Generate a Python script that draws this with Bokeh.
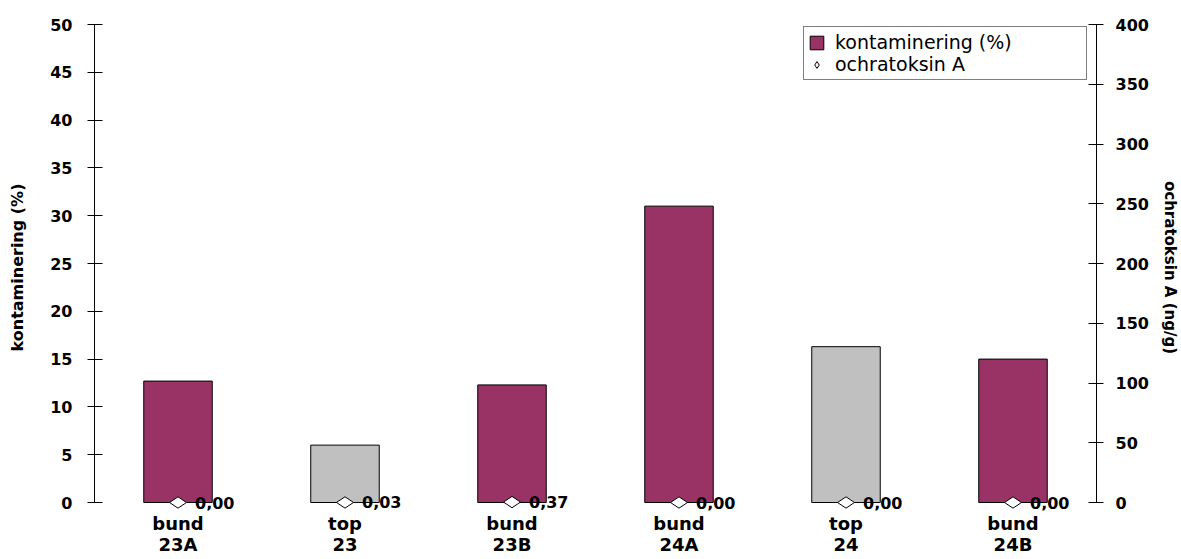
import math

from bokeh.core.properties import value
from bokeh.embed import file_html
from bokeh.models import (ColumnDataSource, FactorRange, FixedTicker, Legend,
                          LegendItem, LinearAxis, Range1d)
from bokeh.plotting import figure
from bokeh.resources import INLINE

# Prøver (kategorier), kontaminering i procent og ochratoksin A i ng/g
proever = ["bund\n23A", "top\n23", "bund\n23B", "bund\n24A", "top\n24", "bund\n24B"]
proevetype = ["bund", "top", "bund", "bund", "top", "bund"]
kontaminering = [12.7, 6.0, 12.3, 31.0, 16.3, 15.0]
ochratoksin = [0.00, 0.03, 0.37, 0.00, 0.00, 0.00]

venstre_ticks = list(range(0, 51, 5))
hoejre_ticks = list(range(0, 401, 50))

farver = {"bund": "#993366", "top": "#C0C0C0"}
FONT = "DejaVu Sans"

# Plot frame: value axis from y=24 (top) to y=502 (zero), plus a small strip
# below zero so markers and labels sitting on the baseline are not clipped
TOP = 24
ZERO = 502
PAD_PX = 8
pad = PAD_PX / (ZERO - TOP)
venstre_max = 50
hoejre_max = 400
frame_bottom = ZERO + PAD_PX

source = ColumnDataSource(data=dict(
    proeve=proever,
    kontam=kontaminering,
    ochra=ochratoksin,
    farve=[farver[t] for t in proevetype],
    etiket=[f"{v:.2f}".replace(".", ",") for v in ochratoksin],
))

p = figure(
    width=1181, height=559,
    x_range=FactorRange(*proever, range_padding=0),
    y_range=Range1d(-venstre_max * pad, venstre_max),
    output_backend="svg", toolbar_location=None,
    min_border_left=94, min_border_right=82,
    min_border_top=TOP, min_border_bottom=559 - frame_bottom,
    background_fill_color="white", border_fill_color="white",
)
p.extra_y_ranges = {"ochra": Range1d(-hoejre_max * pad, hoejre_max)}
p.outline_line_color = None
p.xgrid.visible = False
p.ygrid.visible = False

bars = p.vbar(x="proeve", top="kontam", width=0.41, source=source,
              fill_color="farve", line_color="black", line_width=1)

diamonds = p.scatter(x="proeve", y="ochra", source=source, y_range_name="ochra",
                     marker="diamond", size=17, angle=math.pi / 2,
                     fill_color="white", line_color="black", line_width=1)

p.text(x="proeve", y="ochra", text="etiket", source=source, y_range_name="ochra",
       x_offset=17, text_align="left", text_baseline="middle",
       text_font=value(FONT), text_font_style="bold", text_font_size="16px",
       text_color="black")


def style_value_axis(ax, label, label_size, label_standoff, tick_standoff):
    ax.axis_label = label
    ax.axis_label_text_font = FONT
    ax.axis_label_text_font_style = "bold"
    ax.axis_label_text_font_size = label_size
    ax.axis_label_text_color = "black"
    ax.axis_label_standoff = label_standoff
    ax.major_label_text_font = FONT
    ax.major_label_text_font_style = "bold"
    ax.major_label_text_font_size = "16px"
    ax.major_label_text_color = "black"
    ax.major_label_standoff = tick_standoff
    ax.major_tick_in = 8
    ax.major_tick_out = 7
    ax.minor_tick_line_color = None
    ax.axis_line_color = "black"
    ax.major_tick_line_color = "black"


# Left axis: kontaminering (%)
ya = p.yaxis[0]
ya.ticker = FixedTicker(ticks=venstre_ticks)
ya.bounds = (0, venstre_max)
style_value_axis(ya, "kontaminering (%)", "16px", 20, 15)

# Right axis: ochratoksin A (ng/g)
ra = LinearAxis(y_range_name="ochra", ticker=FixedTicker(ticks=hoejre_ticks))
ra.bounds = (0, hoejre_max)
style_value_axis(ra, "ochratoksin A (ng/g)", "15px", 9, 12)
p.add_layout(ra, "right")

# Category axis
xa = p.xaxis[0]
xa.axis_line_color = None
xa.major_tick_line_color = None
xa.major_tick_in = 0
xa.major_tick_out = 0
xa.major_label_standoff = 2
xa.major_label_text_font = FONT
xa.major_label_text_font_style = "bold"
xa.major_label_text_font_size = "18px"
xa.major_label_text_line_height = 1.0
xa.major_label_text_color = "black"

# Boxed legend in the upper right corner of the frame
LEGEND_LEFT = 803
LEGEND_BOTTOM = 80
legend = Legend(
    items=[
        LegendItem(label="kontaminering (%)", renderers=[bars], index=0),
        LegendItem(label="ochratoksin A", renderers=[diamonds], index=0),
    ],
    location=(LEGEND_LEFT - 94, frame_bottom - LEGEND_BOTTOM),
    orientation="vertical",
    border_line_color="black", border_line_width=1,
    background_fill_color="white", background_fill_alpha=1,
    padding=4, spacing=0, margin=0,
    glyph_width=17, glyph_height=17,
    label_height=22, label_width=247, label_standoff=10,
    label_text_font=FONT, label_text_font_size="19px", label_text_color="black",
)
p.add_layout(legend, "center")

open("out.html", "w").write(file_html(p, INLINE))
